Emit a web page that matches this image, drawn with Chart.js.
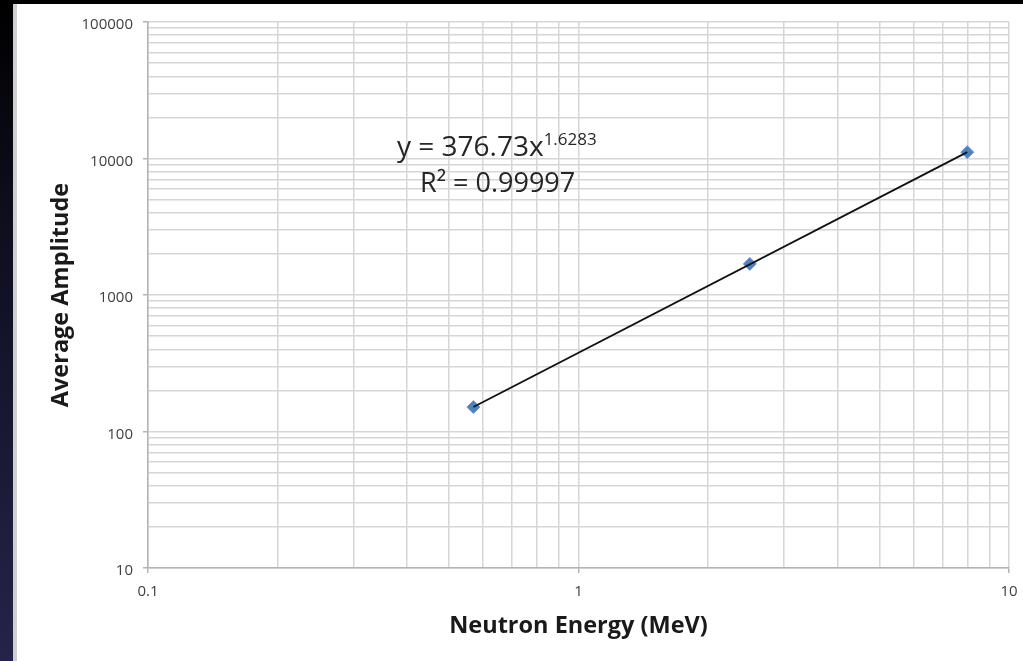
<!DOCTYPE html>
<html>
<head>
<meta charset="utf-8">
<script src="https://cdn.jsdelivr.net/npm/chart.js@4/dist/chart.umd.min.js"></script>
<style>
  html, body { margin: 0; padding: 0; background: #000; }
  #page { position: relative; width: 1023px; height: 661px; overflow: hidden; background: #000; }
  #strip { position: absolute; left: 0; top: 0; width: 13px; height: 661px;
           background: linear-gradient(#000 0%, #0d0d1c 30%, #24244a 100%); }
  #edge { position: absolute; left: 13px; top: 4px; width: 4px; height: 657px; background: #cfcfcf; }
  #slide { position: absolute; left: 17px; top: 4px; width: 1006px; height: 657px; background: #fff; }
  #chart { position: absolute; left: 0; top: 0; }
</style>
</head>
<body>
<div id="page">
  <div id="strip"></div>
  <div id="edge"></div>
  <div id="slide"></div>
  <canvas id="chart" width="1023" height="661"></canvas>
</div>
<script>
// Measured points (neutron energy in MeV, average amplitude)
const energy = [0.57, 2.5, 8.0];
const amplitude = [151, 1690, 11130];

// Power-law trendline, drawn between the first and last point
const trendEnergy = [0.57, 8.0];
const trendAmplitude = [151, 11130];

// Axis ticks
const xTicks = [0.1, 1, 10];
const xTickLabels = ['0.1', '1', '10'];
const yTicks = [10, 100, 1000, 10000, 100000];
const yTickLabels = ['10', '100', '1000', '10000', '100000'];

const fitText = 'y = 376.73x';
const fitPower = '1.6283';
const r2Text = 'R\u00b2 = 0.99997';

// 1..9 x 10^n grid values between the first and last major tick
function logGrid(majors) {
    const out = [];
    for (let i = 0; i < majors.length - 1; i++) {
        for (let k = 1; k < 10; k++) out.push(majors[i] * k);
    }
    out.push(majors[majors.length - 1]);
    return out;
}

function labelFor(majors, labels) {
    return function (value) {
        const i = majors.findIndex(m => Math.abs(m - value) / m < 1e-9);
        return i >= 0 ? labels[i] : '';
    };
}

function isMajor(majors, value) {
    return majors.some(m => Math.abs(m - value) / m < 1e-9);
}

const tickFont = { family: 'Open Sans', size: 15 };
const titleFont = { family: 'Open Sans', size: 23.5, weight: 'bold' };

// equation label in the plot
const fitLabel = {
    id: 'fitLabel',
    afterDatasetsDraw(chart) {
        const { ctx, chartArea } = chart;
        const x = chartArea.left + 249;
        const y = chartArea.top + 134;
        ctx.save();
        ctx.fillStyle = '#262626';
        ctx.textBaseline = 'alphabetic';
        ctx.font = '28px "Open Sans"';
        ctx.fillText(fitText, x, y);
        const w = ctx.measureText(fitText).width;
        ctx.font = '17px "Open Sans"';
        ctx.fillText(fitPower, x + w, y - 11);
        ctx.font = '27px "Open Sans"';
        ctx.fillText(r2Text, x + 23, y + 36);
        ctx.restore();
    }
};

const ctx = document.getElementById('chart').getContext('2d');
const chart = new Chart(ctx, {
    type: 'scatter',
    data: {
        datasets: [{
            label: 'Trendline',
            data: trendEnergy.map((e, i) => ({ x: e, y: trendAmplitude[i] })),
            showLine: true,
            borderColor: '#111',
            borderWidth: 1.8,
            pointRadius: 0
        }, {
            label: 'Amplitude',
            data: energy.map((e, i) => ({ x: e, y: amplitude[i] })),
            pointStyle: 'rectRot',
            pointRadius: 6.5,
            backgroundColor: '#4f81bd',
            borderColor: '#6a98d4',
            borderWidth: 1
        }]
    },
    options: {
        responsive: false,
        animation: false,
        layout: { padding: { left: 17, top: 22, right: 14, bottom: 0 } },
        plugins: { legend: { display: false }, tooltip: { enabled: false } },
        scales: {
            x: {
                type: 'logarithmic',
                min: 0.1,
                max: 10,
                afterBuildTicks: s => { s.ticks = logGrid(xTicks).map(v => ({ value: v })); },
                afterFit: s => { s.height = 93; s.paddingLeft = 0; s.paddingRight = 0; },
                ticks: {
                    autoSkip: false,
                    maxRotation: 0,
                    padding: 10,
                    font: tickFont,
                    color: '#404040',
                    callback: labelFor(xTicks, xTickLabels)
                },
                grid: {
                    color: '#d6d6d6',
                    lineWidth: 1.5,
                    tickLength: 5,
                    tickWidth: 1.5,
                    tickColor: c => isMajor(xTicks, c.tick.value) ? '#b3b3b3' : 'rgba(0,0,0,0)'
                },
                border: { color: '#b3b3b3', width: 1.5 },
                title: {
                    display: true,
                    text: 'Neutron Energy (MeV)',
                    font: titleFont,
                    color: '#1a1a1a',
                    padding: { top: 0, bottom: 21 }
                }
            },
            y: {
                type: 'logarithmic',
                min: 10,
                max: 100000,
                afterBuildTicks: s => { s.ticks = logGrid(yTicks).map(v => ({ value: v })); },
                afterFit: s => { s.width = 131; },
                ticks: {
                    autoSkip: false,
                    padding: 10,
                    labelOffset: 3,
                    font: tickFont,
                    color: '#404040',
                    callback: labelFor(yTicks, yTickLabels)
                },
                grid: {
                    color: '#d6d6d6',
                    lineWidth: 1.5,
                    tickLength: 5,
                    tickWidth: 1.5,
                    tickColor: c => isMajor(yTicks, c.tick.value) ? '#b3b3b3' : 'rgba(0,0,0,0)'
                },
                border: { color: '#b3b3b3', width: 1.5 },
                title: {
                    display: true,
                    text: 'Average Amplitude',
                    font: titleFont,
                    color: '#1a1a1a',
                    padding: { top: 30, bottom: 0 }
                }
            }
        }
    },
    plugins: [fitLabel]
});
</script>
</body>
</html>
